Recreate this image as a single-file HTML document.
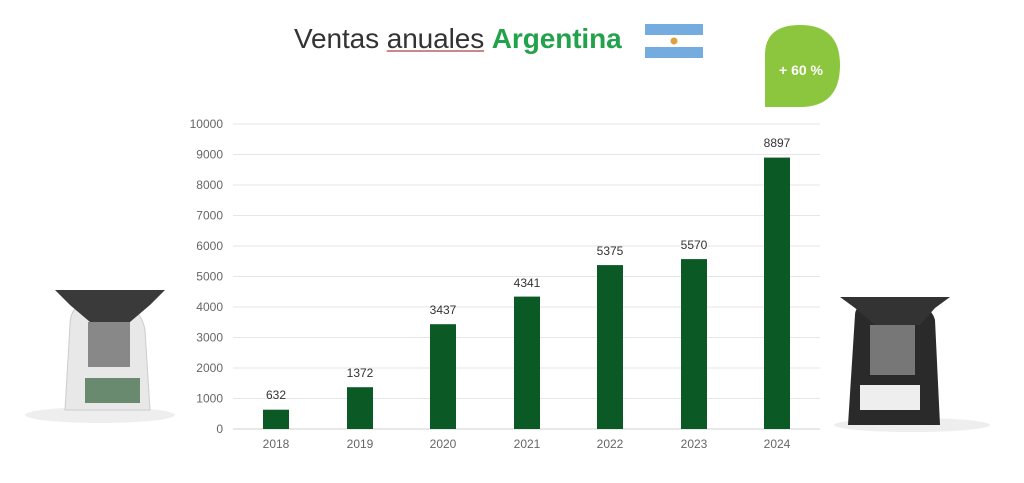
<!DOCTYPE html>
<html><head><meta charset="utf-8"><style>
body{margin:0;background:#fff;width:1024px;height:483px;overflow:hidden;position:relative;font-family:"Liberation Sans",sans-serif}
.t{position:absolute;left:294px;top:23px;font-size:28px;color:#333;letter-spacing:-0.1px;white-space:nowrap}
.t b{color:#22a24a}
</style></head><body>
<div class="t">Ventas <span style="text-decoration:underline;text-decoration-color:#c88">anuales</span> <b>Argentina</b></div>
<svg width="1024" height="483" style="position:absolute;left:0;top:0">
<rect x="645" y="24" width="58" height="11" fill="#74acdf"/><rect x="645" y="47" width="58" height="11" fill="#74acdf"/><circle cx="674" cy="41" r="3.5" fill="#e0a040"/>
<path d="M765 107 V55 Q765 25 800 25 Q840 25 840 65 Q840 107 800 107 Z" fill="#8cc63f"/>
<text x="801" y="75" font-size="14" font-weight="bold" fill="#fff" text-anchor="middle">+ 60 %</text>
<g stroke="#e6e6e6" stroke-width="1">
<line x1="233" x2="820" y1="124" y2="124"/><line x1="233" x2="820" y1="154.5" y2="154.5"/><line x1="233" x2="820" y1="185" y2="185"/><line x1="233" x2="820" y1="215.5" y2="215.5"/><line x1="233" x2="820" y1="246" y2="246"/><line x1="233" x2="820" y1="276.5" y2="276.5"/><line x1="233" x2="820" y1="307" y2="307"/><line x1="233" x2="820" y1="337.5" y2="337.5"/><line x1="233" x2="820" y1="368" y2="368"/><line x1="233" x2="820" y1="398.5" y2="398.5"/><line x1="233" x2="820" y1="429" y2="429" stroke="#d0d0d0"/>
</g>
<g font-size="12" fill="#666" text-anchor="end">
<text x="223" y="128">10000</text><text x="223" y="158.5">9000</text><text x="223" y="189">8000</text><text x="223" y="219.5">7000</text><text x="223" y="250">6000</text><text x="223" y="280.5">5000</text><text x="223" y="311">4000</text><text x="223" y="341.5">3000</text><text x="223" y="372">2000</text><text x="223" y="402.5">1000</text><text x="223" y="433">0</text>
</g>
<g fill="#0b5a26">
<rect x="263" y="409.7" width="26" height="19.3"/>
<rect x="347" y="387.2" width="26" height="41.8"/>
<rect x="430" y="324.2" width="26" height="104.8"/>
<rect x="514" y="296.6" width="26" height="132.4"/>
<rect x="597" y="265.1" width="26" height="163.9"/>
<rect x="681" y="259.1" width="26" height="169.9"/>
<rect x="764" y="157.6" width="26" height="271.4"/>
</g>
<g font-size="12" fill="#333" text-anchor="middle">
<text x="276" y="399">632</text><text x="360" y="377">1372</text><text x="443" y="314">3437</text><text x="527" y="287">4341</text><text x="610" y="255">5375</text><text x="694" y="249">5570</text><text x="777" y="147">8897</text>
</g>
<g font-size="12" fill="#666" text-anchor="middle">
<text x="276" y="448">2018</text><text x="360" y="448">2019</text><text x="443" y="448">2020</text><text x="527" y="448">2021</text><text x="610" y="448">2022</text><text x="694" y="448">2023</text><text x="777" y="448">2024</text>
</g>
<ellipse cx="100" cy="415" rx="75" ry="8" fill="#eee"/>
<path d="M70 325 Q70 300 100 300 Q140 300 145 330 L150 410 L65 410 Z" fill="#e8e8e8" stroke="#ccc"/>
<path d="M55 290 H165 L150 305 L130 322 H90 L70 305 Z" fill="#3a3a3a"/>
<rect x="88" y="322" width="42" height="45" fill="#888"/>
<rect x="85" y="378" width="55" height="25" fill="#6a8a70"/>
<ellipse cx="912" cy="425" rx="78" ry="7" fill="#eee"/>
<path d="M855 315 Q855 300 890 300 Q930 300 935 320 L940 425 L848 425 Z" fill="#2a2a2a"/>
<path d="M840 297 H950 L935 308 L920 325 H875 L855 308 Z" fill="#333"/>
<rect x="870" y="325" width="45" height="50" fill="#777"/>
<rect x="860" y="385" width="60" height="25" fill="#eee"/>
</svg>
</body></html>
